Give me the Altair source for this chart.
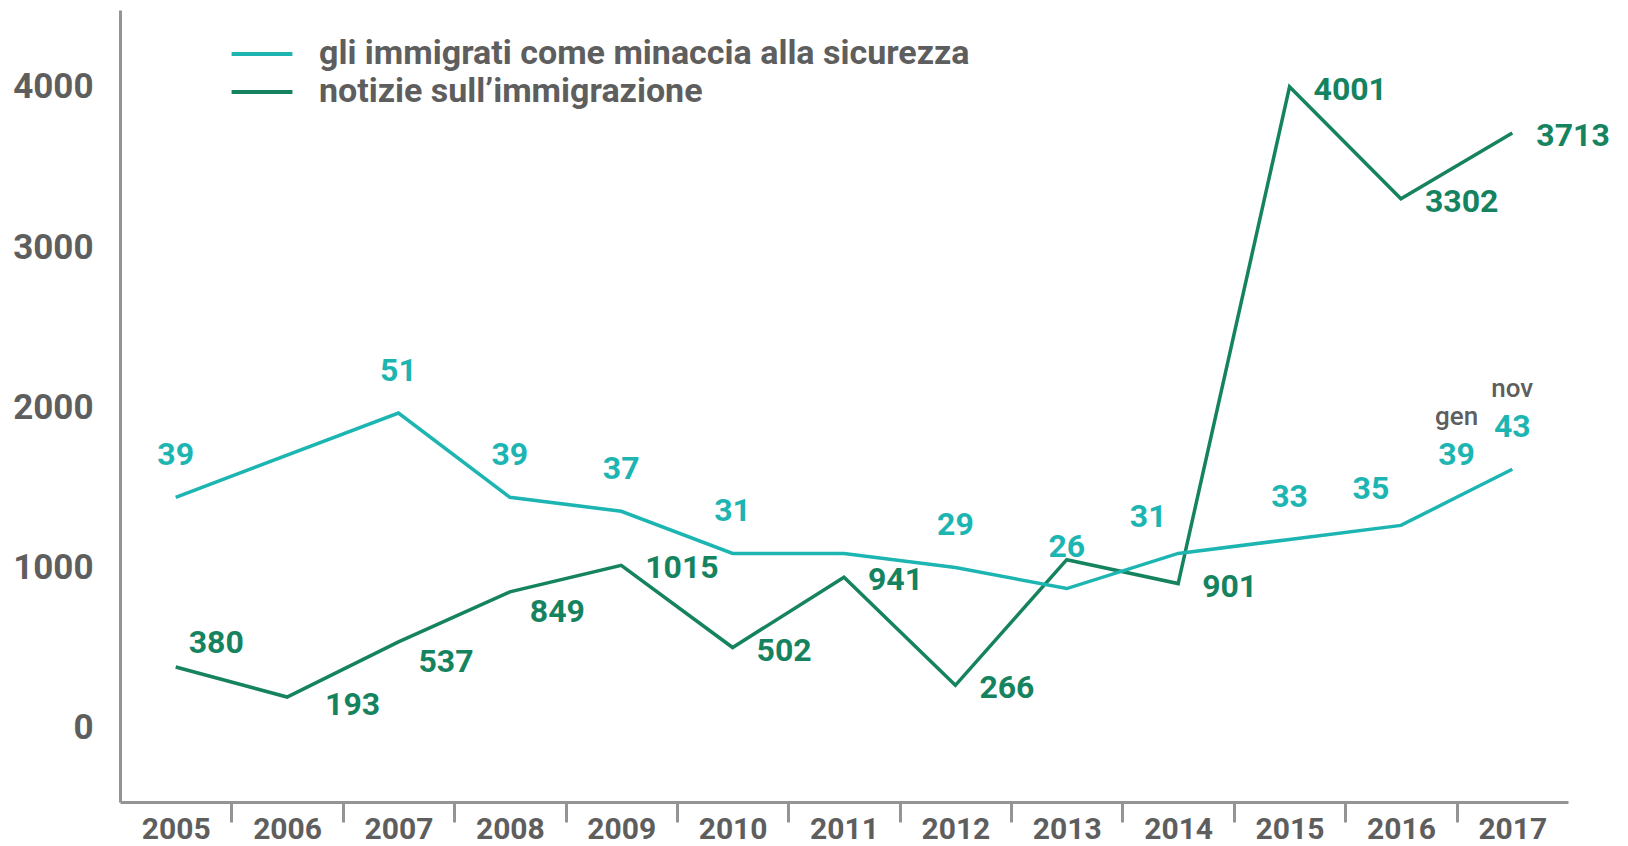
import altair as alt
import pandas as pd

# ---- data ----
years = [2005, 2006, 2007, 2008, 2009, 2010, 2011, 2012, 2013, 2014, 2015, 2016, 2017]
news = [380, 193, 537, 849, 1015, 502, 941, 266, 1050, 901, 4001, 3302, 3713]
news_labels = ["380", "193", "537", "849", "1015", "502", "941", "266", "", "901", "4001", "3302", "3713"]
news_place = ["up", "far", "down", "down", "right", "right", "right", "right", "none",
              "right", "right", "right", "right"]

threat_pos = [2005, 2007, 2008, 2009, 2010, 2011, 2012, 2013, 2014, 2015, 2016, 2016.5, 2017]
threat = [39, 51, 39, 37, 31, 31, 29, 26, 31, 33, 35, 39, 43]
threat_labels = ["39", "51", "39", "37", "31", "", "29", "26", "31", "33", "35", "39", "43"]
threat_place = ["above", "above", "above", "above", "above", "above", "above", "above",
                "left", "above", "left", "above", "above"]
threat_month = ["", "", "", "", "", "", "", "", "", "", "", "gen", "nov"]

series_names = ["gli immigrati come minaccia alla sicurezza", "notizie sull\u2019immigrazione"]
y_ticks = [0, 1000, 2000, 3000, 4000]

# ---- styling ----
LIGHT = "#1db5b2"
DARK = "#15835f"
GRAY = "#5e5e5e"
AXIS = "#949494"
FONT = "Roboto"

news_df = pd.DataFrame({"year": years, "value": news, "label": news_labels,
                        "place": news_place, "series": series_names[1]})
threat_df = pd.DataFrame({"year": threat_pos, "value": threat, "label": threat_labels,
                          "place": threat_place, "month": threat_month,
                          "series": series_names[0]})

x_scale = alt.Scale(domain=[2004.5, 2017.5], nice=False, zero=False)

x_axis_labels = alt.Axis(values=years, format="d", ticks=False, domain=True,
                         domainColor=AXIS, domainWidth=3, labelFont=FONT,
                         labelFontSize=30, labelFontWeight="bold", labelColor=GRAY,
                         labelPadding=12, grid=False, title=None, orient="bottom",
                         labelFlush=False)
x_axis_ticks = alt.Axis(values=[y + 0.5 for y in years[:-1]], labels=False, ticks=True,
                        tickSize=20, tickWidth=3, tickColor=AXIS, domain=False,
                        grid=False, title=None, orient="bottom")

X1 = alt.X("year:Q", scale=x_scale, axis=x_axis_labels)
X2 = alt.X("year:Q", scale=x_scale, axis=x_axis_ticks)

y_news = alt.Y("value:Q", scale=alt.Scale(domain=[-462, 4480], nice=False, zero=False),
               axis=alt.Axis(values=y_ticks, format="d", ticks=False, grid=False,
                             domainColor=AXIS, domainWidth=3, labelFont=FONT,
                             labelFontSize=35, labelFontWeight="bold", labelColor=GRAY,
                             labelPadding=27, title=None, orient="left", labelFlush=False))
y_threat = alt.Y("value:Q", scale=alt.Scale(domain=[-4.4, 108.4], nice=False, zero=False),
                 axis=None)

color = alt.Color("series:N",
                  scale=alt.Scale(domain=series_names, range=[LIGHT, DARK]),
                  legend=alt.Legend(orient="none", legendX=121, legendY=23,
                                    symbolType="M-1.6,0L1.6,0", symbolSize=1444,
                                    symbolStrokeWidth=4, labelFont=FONT,
                                    labelFontSize=34, labelFontWeight="bold",
                                    labelColor=GRAY, labelOffset=36, rowPadding=0,
                                    title=None, padding=0, labelLimit=1000))

news_base = alt.Chart(news_df)
news_line = news_base.mark_line(strokeWidth=3.5).encode(x=X1, y=y_news, color=color)

def news_text(place, dx, dy):
    return news_base.transform_filter(alt.datum.place == place).mark_text(
        align="left", baseline="middle", dx=dx, dy=dy, font=FONT, fontSize=32,
        fontWeight="bold", color=DARK).encode(x=X1, y=y_news, text="label:N")

news_layer = alt.layer(news_line,
                       news_text("up", 13, -24),
                       news_text("far", 38, 8),
                       news_text("right", 24, 3),
                       news_text("down", 20, 20))

threat_base = alt.Chart(threat_df)
threat_line = threat_base.mark_line(strokeWidth=3.5).encode(x=X2, y=y_threat, color=color)

def threat_text(place, dx, dy):
    return threat_base.transform_filter(alt.datum.place == place).mark_text(
        align="center", baseline="middle", dx=dx, dy=dy, font=FONT, fontSize=32,
        fontWeight="bold", color=LIGHT).encode(x=X2, y=y_threat, text="label:N")

threat_month_text = threat_base.mark_text(align="center", baseline="middle", dy=-80,
                                          font=FONT, fontSize=26, fontWeight=500,
                                          color=GRAY).encode(
    x=X2, y=y_threat, text="month:N")

threat_layer = alt.layer(threat_line,
                         threat_text("above", 0, -42),
                         threat_text("left", -30, -36),
                         threat_month_text)

chart = alt.layer(news_layer, threat_layer).resolve_scale(
    y="independent"
).resolve_axis(
    x="independent", y="independent"
).properties(
    width=1448, height=792,
    padding={"left": 112, "top": 2, "right": 52, "bottom": 42},
    autosize=alt.AutoSizeParams(type="none"),
    background="white",
).configure_view(stroke=None)

chart.save("out.html", embed_options={"renderer": "svg", "actions": False})
